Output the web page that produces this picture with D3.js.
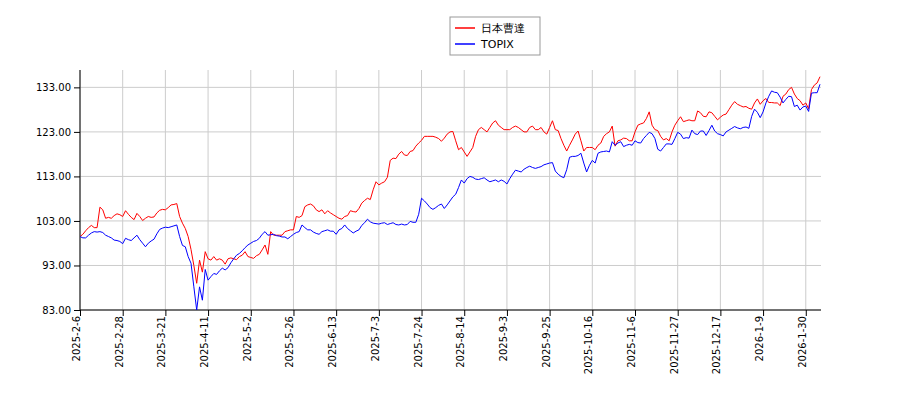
<!DOCTYPE html>
<html>
<head>
<meta charset="utf-8">
<script src="https://cdn.jsdelivr.net/npm/d3@7"></script>
<style>
  body { margin: 0; background: #fff; }
  text { font-family: "DejaVu Sans", sans-serif; }
</style>
</head>
<body>
<svg id="chart" width="900" height="400"></svg>
<script>
// tick labels, every 15 trading days from 2025-2-6
const tickLabels = ['2025-2-6','2025-2-28','2025-3-21','2025-4-11','2025-5-2','2025-5-26','2025-6-13','2025-7-3',
  '2025-7-24','2025-8-14','2025-9-3','2025-9-25','2025-10-16','2025-11-6','2025-11-27','2025-12-17','2026-1-9','2026-1-30'];
const yTicks = [83, 93, 103, 113, 123, 133];
const seriesNames = ['日本曹達', 'TOPIX'];
const seriesColors = ['#ff0000', '#0000ff'];

const nisso = [
  99.5,100,100.8,101.5,102,101.5,101.5,106.1,105.5,103.6,103.8,103.6,104.2,104.6,104.4,
  104,105.3,104.5,103.8,103.3,104.7,104,103.1,103.6,104,103.8,103.9,104.8,105.4,105.6,
  105.5,106,106.6,106.7,106.9,104,102.5,101.3,99.5,96.6,93,89,94.2,91.5,96.1,
  94.5,94.2,95,94.2,94.5,94.2,93.3,94.5,94.7,94.5,94.3,95,95.3,96.1,95,
  94.8,94.6,95.2,95.5,96.5,97.6,95.5,100.6,99.8,99.8,99.8,99.8,100.6,100.8,101,
  101,104,103.8,104.2,106.2,106.6,106.8,106.4,105.5,105.1,105.5,104.6,105.3,104.8,104.4,
  104,103.6,103.4,104,104.2,105.3,105.1,105,105.8,107,107.6,108.1,107.8,110,111.8,
  111.1,111.5,111.8,112.8,116.6,117.1,117,118,118.6,117.8,117.7,118.6,118.8,119.8,120.5,
  121.1,122,122,122,122,121.8,121.5,120.9,121.6,122.5,123,123.1,121,119,119.5,
  118.5,117.5,118.5,119.5,122,123.5,124,123.5,123,124,125,125.5,124.5,124,123.5,
  123.5,123.5,124,124.3,124,123.5,123,123,124,124.3,123.5,123.5,124,123,122.5,
  124,125.5,123.5,123.3,121.5,120,118.7,120,121.2,122.5,123.2,121,118.7,119.5,119.5,
  119.5,119,120,120.5,122,122.6,123,124.3,119.8,121,121.2,121.6,121.5,121,121,
  123,124.5,124.8,125,126,127.5,124.5,123.5,123.3,122,121.2,121.5,121,123,124.5,
  125.5,126.4,125.3,125.5,125.7,125.5,125.5,127.7,127.3,126.5,126.4,127.5,127.3,126.5,125.7,
  126.3,126.8,127,128,129,129.8,129.2,128.9,128.6,128.7,128.3,128.1,129.5,130.4,129.2,
  130,130.5,129.6,129.6,129.5,129.5,128.9,131,131.5,132.5,133,131.5,130.5,130,129,
  129.5,128.2,132.5,133.5,134,135.4
];
const topix = [
  99.5,99.2,99.2,99.8,100.3,100.6,100.5,100.6,100.4,99.8,99.5,99.2,98.7,98.6,98.4,
  97.9,99.1,98.8,98.6,99.2,99.8,98.8,98,97.2,98,98.5,98.9,100.1,101.1,101.4,
  101.6,101.5,101.7,101.9,102.1,99.5,97.5,97.2,95,93.5,88.2,83,88.2,85.2,92.1,
  89.7,90.5,91.2,91,91.8,92.4,92,92.5,93.6,94.5,95.3,95.7,96.3,97,97.6,
  98,98.4,98.6,99.1,100,100.6,99.8,99.9,100,99.7,99.6,99.4,99.4,99,99.5,
  100,100.4,100.6,102.1,101.5,101,101,100.5,100.2,100,100.6,100.8,101,100.7,100.7,
  100,101,101.3,102.1,101.3,100.8,100.3,100.7,101,102,102.6,103.4,102.8,102.5,102.4,
  102.3,102.5,102.6,102.2,102.4,102.6,102.2,102.1,102.3,102.1,102.2,102.9,102.7,102.7,104.5,
  108.1,107.5,106.8,106,105.6,106,106.5,106.8,105.8,106.6,107.5,108.4,109,110.5,112.2,
  111.5,112.5,113,112.8,112.4,112.3,112.5,112.7,112.2,111.8,112,112.2,111.8,112.2,111.9,
  111.3,112.5,113.5,114.4,114.2,114,114.6,115,115.3,115,114.8,115,115.2,115.6,115.8,
  116,116.1,114.2,113.5,113,112.7,114.5,117.3,117.5,117.5,117.7,118.2,116,114,115.5,
  116.6,116,118.2,118.5,118.6,118.7,118.5,120.8,120,120.5,120.8,119.7,120,120.2,120,
  121,120.6,120.5,121.5,122.2,122.9,122.6,121.5,119.1,118.7,119.5,120.3,120.3,120.2,121.5,
  122.9,122.5,121.5,121.7,121.6,123.4,122.6,122.4,123.2,123.2,122.2,123.3,124.5,123.2,122.6,
  122.4,122.1,123,123.4,123.8,124.2,123.9,123.7,124,124.1,123.8,126.5,128.1,127.4,126.2,
  127.5,129.5,131,132.2,131.9,131.8,130.8,129.5,130.3,131,130.9,128.7,129,127.9,128.6,
  128.8,127.6,131.7,131.8,131.8,133.7
];

const svg = d3.select('#chart');
const mLeft = 80, mRight = 821, mTop = 70, mBottom = 310;

const x = d3.scaleLinear().domain([0, nisso.length - 1]).range([mLeft, mRight - 1]);
const y = d3.scaleLinear().domain([83, 136.9]).range([mBottom, mTop]);
const tickIdx = tickLabels.map((d, i) => i * 15);

// grid
svg.append('g').selectAll('line').data(tickIdx).enter().append('line')
  .attr('x1', d => x(d)).attr('x2', d => x(d)).attr('y1', mTop).attr('y2', mBottom)
  .attr('stroke', '#cccccc').attr('stroke-width', 1);
svg.append('g').selectAll('line').data(yTicks).enter().append('line')
  .attr('x1', mLeft).attr('x2', mRight).attr('y1', d => y(d)).attr('y2', d => y(d))
  .attr('stroke', '#cccccc').attr('stroke-width', 1);

// axes
const xAxis = d3.axisBottom(x).tickValues(tickIdx).tickFormat((d, i) => tickLabels[i]).tickSizeOuter(0);
const gx = svg.append('g').attr('transform', `translate(0,${mBottom})`).call(xAxis);
gx.selectAll('text')
  .attr('transform', 'rotate(-90)')
  .attr('x', -6).attr('y', -4).attr('dy', '0.35em')
  .style('text-anchor', 'end').style('font-size', '10px').attr('fill', '#000');

const yAxis = d3.axisLeft(y).tickValues(yTicks).tickFormat(d3.format('.2f')).tickSizeOuter(0);
const gy = svg.append('g').attr('transform', `translate(${mLeft},0)`).call(yAxis);
gy.selectAll('text').style('font-size', '10px').attr('fill', '#000');
gy.select('.domain').attr('d', `M0,${mTop}V${mBottom}`);
gx.select('.domain').attr('d', `M${mLeft},0H${mRight}`);

// lines
const line = d3.line().x((d, i) => x(i)).y(d => y(d));
[nisso, topix].forEach((s, k) => {
  svg.append('path').datum(s).attr('d', line)
    .attr('fill', 'none').attr('stroke', seriesColors[k]).attr('stroke-width', 1);
});

// legend
const lg = svg.append('g').attr('transform', 'translate(450,17)');
lg.append('rect').attr('width', 90).attr('height', 38)
  .attr('fill', '#fff').attr('stroke', '#999');
seriesNames.forEach((n, k) => {
  lg.append('line').attr('x1', 5).attr('x2', 25).attr('y1', 11 + k * 16).attr('y2', 11 + k * 16)
    .attr('stroke', seriesColors[k]).attr('stroke-width', 1.5);
  lg.append('text').attr('x', 31).attr('y', 11 + k * 16).attr('dy', '0.35em')
    .style('font-size', '11px').text(n);
});
</script>
</body>
</html>
